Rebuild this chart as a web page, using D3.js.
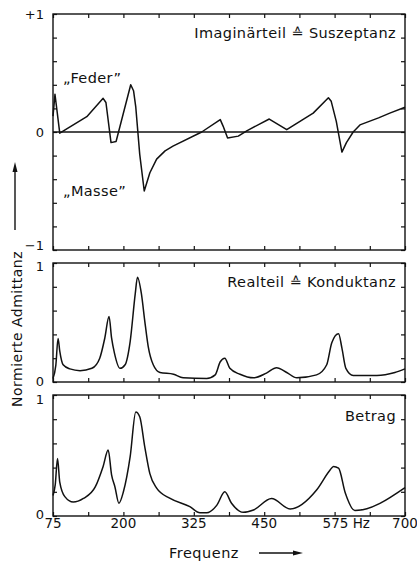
<!DOCTYPE html>
<html><head><meta charset="utf-8">
<script src="https://cdn.jsdelivr.net/npm/d3@7"></script>
<style>
html,body{margin:0;padding:0;background:#fff;}
svg{display:block;}
text{font-family:"DejaVu Sans",sans-serif;fill:#111;}
</style></head>
<body>
<script>
// Frequencies (Hz) and values
const imagF = [75,78.5,87,135,164,169,178,187,213,218,222,229,237,247,259,274,288,339,372,377,385,404,419,459,490,537,564,569,578,588,596,608,620,653,673,700];
const imagV = [0.135,0.32,-0.01,0.13,0.285,0.25,-0.09,-0.08,0.40,0.35,0.21,-0.19,-0.50,-0.345,-0.23,-0.16,-0.12,0,0.105,0.05,-0.05,-0.035,0.01,0.11,0.02,0.16,0.29,0.26,0.09,-0.17,-0.09,0,0.06,0.12,0.16,0.21];

const realF = [75,80,84,87,93,105,123,144,158,167,174.5,179,184,194,203,212,221,225,232,238,244,253,265,289,306,348,363,372,380,389,407,431,454,472,490,508,543,561,570,582,588,595,608,650,682,700];
const realV = [0.03,0.14,0.365,0.26,0.145,0.11,0.095,0.115,0.2,0.37,0.55,0.37,0.245,0.115,0.145,0.34,0.74,0.88,0.74,0.51,0.3,0.145,0.08,0.065,0.035,0.03,0.06,0.17,0.2,0.115,0.065,0.035,0.075,0.12,0.08,0.035,0.06,0.145,0.33,0.405,0.285,0.115,0.055,0.055,0.08,0.11];

const absF = [75,79,83,87,96,111,129,150,164,173,179,185,192,200,212,222,229,238,247,259,283,318,336,348,366,380,392,413,431,463,496,543,567,573,582,594,611,700];
const absV = [0.17,0.26,0.475,0.28,0.16,0.115,0.145,0.24,0.41,0.545,0.34,0.24,0.105,0.2,0.49,0.86,0.82,0.57,0.35,0.23,0.145,0.077,0.027,0.027,0.09,0.2,0.105,0.03,0.05,0.145,0.058,0.215,0.38,0.41,0.395,0.19,0.045,0.235];

const xTickLabels = [75,200,325,450,575,700];
const xTickValues = d3.range(75, 700.1, 62.5);

const W = 417, H = 562;
const svg = d3.select("body").append("svg").attr("width", W).attr("height", H);

const x = d3.scaleLinear().domain([75,700]).range([53,405]);

const panels = [
  {f:imagF, v:imagV, domain:[-1,1], top:14, bottom:250, curve:d3.curveLinear,
   labels:[{v:1,t:"+1",dy:0},{v:0,t:"0",dy:0},{v:-1,t:"\u22121",dy:-5}], title:"Imaginärteil \u2259 Suszeptanz", titleY:38, zero:true},
  {f:realF, v:realV, domain:[0,1], top:263, bottom:382, curve:d3.curveMonotoneX,
   labels:[{v:1,t:"1",dy:3},{v:0,t:"0",dy:-1}], title:"Realteil \u2259 Konduktanz", titleY:287},
  {f:absF, v:absV, domain:[0,1], top:395, bottom:516, curve:d3.curveMonotoneX,
   labels:[{v:1,t:"1",dy:4},{v:0,t:"0",dy:-2}], title:"Betrag", titleY:421}
];

panels.forEach((p, i) => {
  const y = d3.scaleLinear().domain(p.domain).range([p.bottom, p.top]);
  const g = svg.append("g");
  const yTicks = d3.range(p.domain[0], p.domain[1] + 0.001, 0.2);
  g.append("rect").attr("x", x.range()[0]).attr("y", p.top)
    .attr("width", x.range()[1]-x.range()[0]).attr("height", p.bottom-p.top)
    .attr("fill","none").attr("stroke","#111").attr("stroke-width",1.4);
  const tickStyle = sel => { sel.select(".domain").remove(); sel.selectAll("line").attr("stroke","#111").attr("stroke-width",1.2); sel.selectAll("text").remove(); };
  g.append("g").attr("transform",`translate(0,${p.bottom})`).call(d3.axisTop(x).tickValues(xTickValues).tickSize(4)).call(tickStyle);
  g.append("g").attr("transform",`translate(0,${p.top})`).call(d3.axisBottom(x).tickValues(xTickValues).tickSize(4)).call(tickStyle);
  g.append("g").attr("transform",`translate(${x.range()[0]},0)`).call(d3.axisRight(y).tickValues(yTicks).tickSize(4)).call(tickStyle);
  g.append("g").attr("transform",`translate(${x.range()[1]},0)`).call(d3.axisLeft(y).tickValues(yTicks).tickSize(4)).call(tickStyle);
  p.labels.forEach(l => {
    g.append("text").attr("x", 44).attr("y", y(l.v) + l.dy).attr("dy","0.36em")
      .attr("text-anchor","end").attr("font-size",13).text(l.t);
  });
  if (p.zero) {
    g.append("line").attr("x1", x.range()[0]).attr("x2", x.range()[1])
      .attr("y1", y(0)).attr("y2", y(0)).attr("stroke","#111").attr("stroke-width",1.3);
  }
  const line = d3.line().x((d,j)=>x(p.f[j])).y(d=>y(d)).curve(p.curve);
  g.append("path").datum(p.v).attr("d", line).attr("fill","none")
    .attr("stroke","#111").attr("stroke-width",1.5).attr("stroke-linejoin","round");
  g.append("text").attr("x", 396).attr("y", p.titleY).attr("text-anchor","end")
    .attr("font-size",14.5).attr("letter-spacing",0.4).text(p.title);
});

svg.append("text").attr("x",63).attr("y",83).attr("font-size",14.5).attr("letter-spacing",0.4).text("\u201EFeder\u201D");
svg.append("text").attr("x",63).attr("y",196).attr("font-size",14.5).attr("letter-spacing",0.4).text("\u201EMasse\u201D");

// x tick labels
svg.append("g").selectAll("text").data(xTickLabels).join("text")
  .attr("x", d => d===575 ? x(d) - 12 : x(d)).attr("y", 528)
  .attr("text-anchor", d => d===575 ? "start" : "middle")
  .attr("font-size",13.5).text(d => d===575 ? "575 Hz" : d);

// x axis title
svg.append("text").attr("x",204).attr("y",558).attr("text-anchor","middle").attr("font-size",14.5).attr("letter-spacing",0.5).text("Frequenz");
svg.append("line").attr("x1",259).attr("x2",296).attr("y1",553).attr("y2",553).attr("stroke","#111").attr("stroke-width",1.4);
svg.append("path").attr("d","M293,550.5 L303,553 L293,555.5 Z").attr("fill","#111");

// y axis title
svg.append("text").attr("transform","translate(22,329) rotate(-90)").attr("text-anchor","middle")
  .attr("font-size",14).attr("letter-spacing",0.5).text("Normierte Admittanz");
svg.append("line").attr("x1",15).attr("x2",15).attr("y1",230).attr("y2",170).attr("stroke","#111").attr("stroke-width",1.4);
svg.append("path").attr("d","M12.5,172 L15,162 L17.5,172 Z").attr("fill","#111");
</script>
</body></html>
